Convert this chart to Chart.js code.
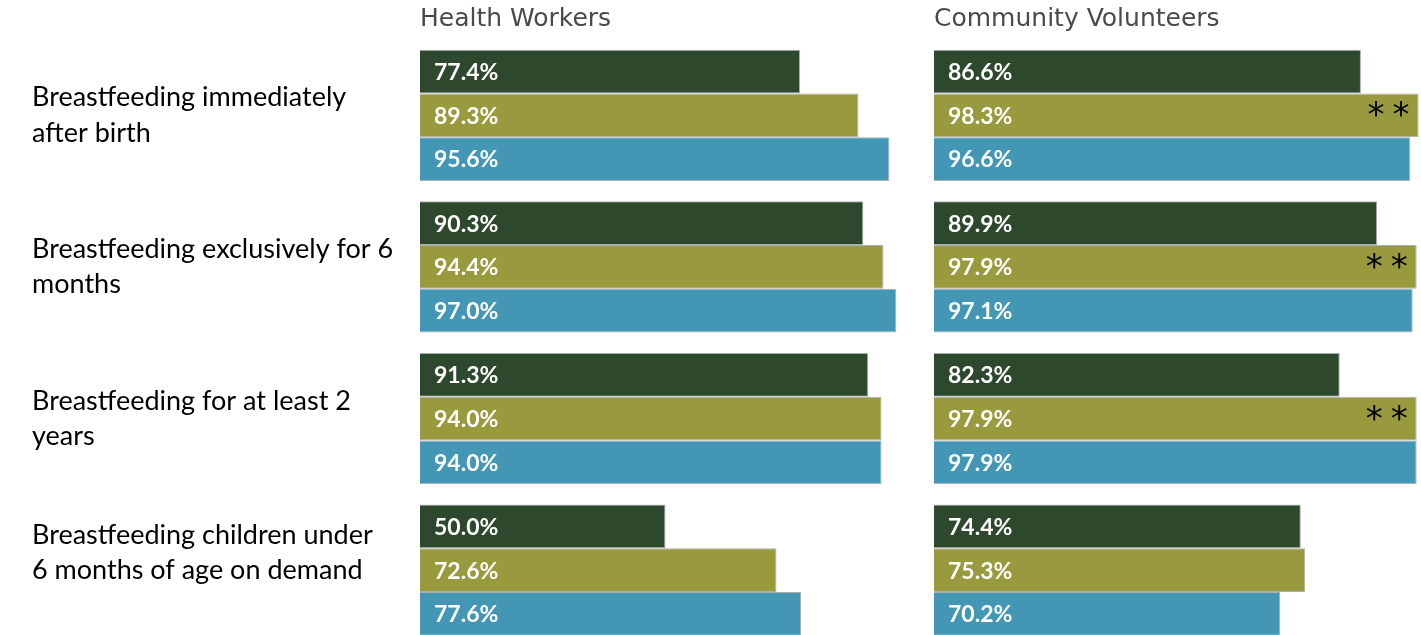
<!DOCTYPE html>
<html>
<head>
<meta charset="utf-8">
<script src="https://cdn.jsdelivr.net/npm/chart.js@4/dist/chart.umd.min.js"></script>
<style>
  html, body { margin: 0; padding: 0; background: #fff; overflow: hidden; width: 1421px; height: 635px; }
  canvas { position: absolute; top: 0; }
  #chart-health { left: 0; }
  #chart-volunteers { left: 934px; }
</style>
</head>
<body>
<canvas id="chart-health" width="911" height="646"></canvas>
<canvas id="chart-volunteers" width="493" height="646"></canvas>
<script>
/* breastfeeding knowledge: health workers vs community volunteers */
const categories = [
  ["Breastfeeding immediately", "after birth"],
  ["Breastfeeding exclusively for 6", "months"],
  ["Breastfeeding for at least 2", "years"],
  ["Breastfeeding children under", "6 months of age on demand", ""],
];
const seriesNames = ["Series 1", "Series 2", "Series 3"];
const seriesColors = ["#2d482d", "#99993d", "#4397b5"];

const healthSeries1 = [77.4, 90.3, 91.3, 50.0];
const healthSeries2 = [89.3, 94.4, 94.0, 72.6];
const healthSeries3 = [95.6, 97.0, 94.0, 77.6];

const volunteerSeries1 = [86.6, 89.9, 82.3, 74.4];
const volunteerSeries2 = [98.3, 97.9, 97.9, 75.3];
const volunteerSeries3 = [96.6, 97.1, 97.9, 70.2];
// significance marks shown on the second volunteer series
const volunteerMarks = ["**", "**", "**", ""];

const labelPlugin = {
  id: "barLabels",
  afterDatasetsDraw(chart) {
    const ctx = chart.ctx;
    ctx.save();
    chart.data.datasets.forEach((ds, di) => {
      const meta = chart.getDatasetMeta(di);
      meta.data.forEach((el, i) => {
        ctx.font = "bold 23px Lato, 'Open Sans', sans-serif";
        ctx.fillStyle = "#ffffff";
        ctx.textAlign = "left";
        ctx.textBaseline = "middle";
        ctx.fillText(ds.data[i].toFixed(1) + "%", el.base + 14, el.y + 1);
        const mark = ds.marks && ds.marks[i];
        if (mark) {
          ctx.font = "34px 'DejaVu Sans', sans-serif";
          ctx.fillStyle = "#000000";
          ctx.textAlign = "right";
          ctx.textBaseline = "alphabetic";
          ctx.letterSpacing = "8px";
          ctx.fillText(mark, el.x - 1, el.y + 11);
          ctx.letterSpacing = "0px";
        }
      });
    });
    ctx.restore();
  },
};

function makeDatasets(values, marks) {
  return values.map((v, i) => ({
    label: seriesNames[i],
    data: v,
    backgroundColor: seriesColors[i],
    borderColor: "#a9b0b0",
    borderWidth: 1,
    marks: i === 1 ? marks : null,
    categoryPercentage: 0.865,
    barPercentage: 1.0,
  }));
}

function makeChart(id, title, values, marks, showLabels) {
  return new Chart(document.getElementById(id), {
    type: "bar",
    data: { labels: categories, datasets: makeDatasets(values, marks) },
    plugins: [labelPlugin],
    options: {
      indexAxis: "y",
      responsive: false,
      animation: false,
      layout: { padding: { left: showLabels ? 32 : 0, right: 0, top: 0, bottom: 0 } },
      plugins: {
        legend: { display: false },
        tooltip: { enabled: false },
        title: {
          display: true,
          text: title,
          align: "start",
          fullSize: false,
          color: "#4a4a4a",
          font: { family: "'DejaVu Sans', sans-serif", size: 25, weight: "normal", lineHeight: 1.1 },
          padding: { top: 6, bottom: 6 },
        },
      },
      scales: {
        x: { display: false, min: 0, max: 100 },
        y: {
          display: showLabels,
          grid: { display: false },
          border: { display: false },
          ticks: {
            crossAlign: "far",
            padding: 0,
            color: "#000000",
            font: { family: "Lato, sans-serif", size: 27, lineHeight: 1.3 },
          },
          afterFit: (scale) => {
            // labels live in the left gutter; don't let them pad the plot area
            scale.paddingTop = 0;
            scale.paddingBottom = 0;
            if (showLabels) scale.width = 388;
          },
        },
      },
    },
  });
}

makeChart("chart-health", "Health Workers",
  [healthSeries1, healthSeries2, healthSeries3], null, true);
makeChart("chart-volunteers", "Community Volunteers",
  [volunteerSeries1, volunteerSeries2, volunteerSeries3], volunteerMarks, false);
</script>
</body>
</html>
